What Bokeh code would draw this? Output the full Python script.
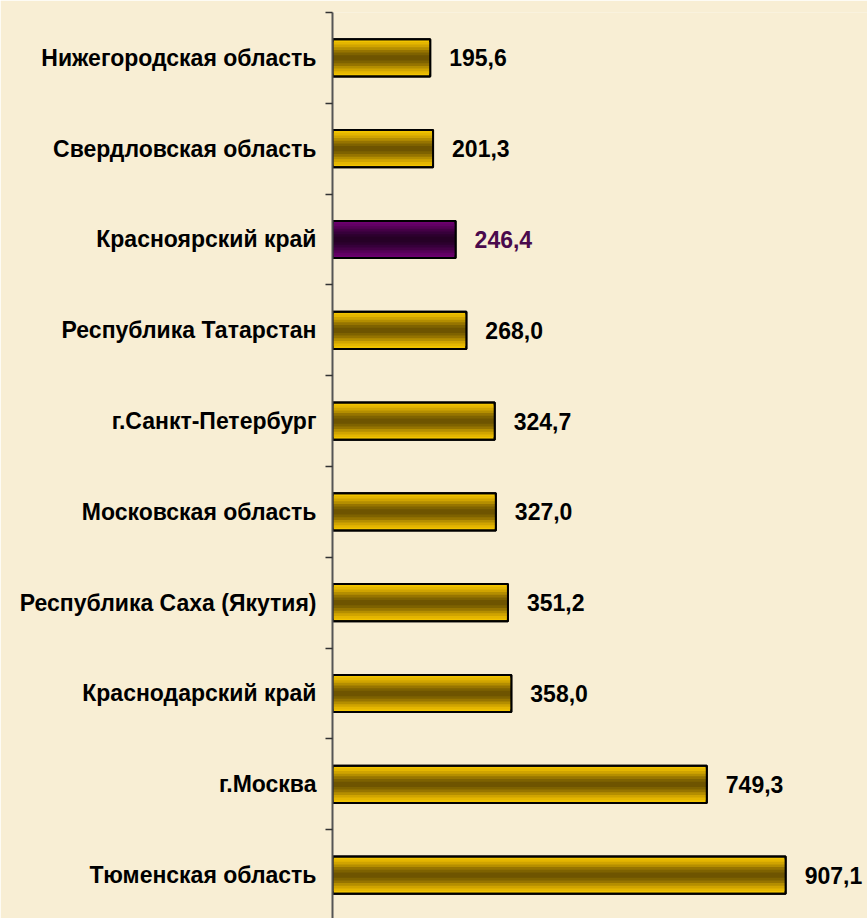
from bokeh.plotting import figure
from bokeh.models import Range1d, FixedTicker, ColumnDataSource
from bokeh.core.properties import value
from bokeh.embed import file_html
from bokeh.resources import INLINE

regions = ["Нижегородская область", "Свердловская область", "Красноярский край",
           "Республика Татарстан", "г.Санкт-Петербург", "Московская область",
           "Республика Саха (Якутия)", "Краснодарский край", "г.Москва", "Тюменская область"]
values = [195.6, 201.3, 246.4, 268.0, 324.7, 327.0, 351.2, 358.0, 749.3, 907.1]
labels = ["195,6", "201,3", "246,4", "268,0", "324,7", "327,0", "351,2", "358,0", "749,3", "907,1"]
highlight = "Красноярский край"

BG = "#F8EED4"
FONT = "Liberation Sans"

ypos = list(range(1, len(regions) + 1))

p = figure(width=867, height=918, output_backend="svg", toolbar_location=None,
           x_range=Range1d(0, 1071), y_range=Range1d(10.478, 0.5),
           min_border_left=332, min_border_right=0, min_border_top=12, min_border_bottom=0,
           background_fill_color=BG, border_fill_color=BG, outline_line_color=None)
p.xaxis.visible = False
p.xgrid.visible = False
p.ygrid.visible = False

gold = ["#F2C400", "#E4B600", "#D0A400", "#B48E00", "#967400", "#7E6200", "#6E5400"]
purple = ["#6E0070", "#620064", "#540056", "#440046", "#36003A", "#2C002E", "#260026"]

H = 0.41
is_hl = [r == highlight for r in regions]
n = len(gold)
for k in range(n):
    hk = H * (1 - k / n)
    cols = [purple[k] if h else gold[k] for h in is_hl]
    src = ColumnDataSource(dict(y=ypos, right=values, color=cols))
    if k == 0:
        p.hbar(y="y", left=0, right="right", height=hk, source=src,
               fill_color="color", line_color="#000000", line_width=2)
    else:
        p.hbar(y="y", left=1.2, right="right", height=hk, source=src,
               fill_color="color", line_color=None)
srcb = ColumnDataSource(dict(y=ypos, right=values))
p.hbar(y="y", left=0, right="right", height=H, source=srcb,
       fill_color=None, line_color="#000000", line_width=2)

tcols = ["#4A0A4C" if h else "#000000" for h in is_hl]
tsrc = ColumnDataSource(dict(x=values, y=ypos, t=labels, c=tcols))
p.text(x="x", y="y", text="t", source=tsrc, x_offset=19, text_color="c",
       text_font=value(FONT), text_font_style="bold", text_font_size="23px",
       text_baseline="middle", text_align="left")

ax = p.yaxis[0]
ax.ticker = FixedTicker(ticks=ypos, minor_ticks=[i + 0.5 for i in range(0, len(regions) + 1)])
ax.major_label_overrides = {i: r for i, r in zip(ypos, regions)}
ax.major_tick_line_color = None
ax.major_tick_out = 0
ax.minor_tick_out = 7
ax.minor_tick_in = 0
ax.minor_tick_line_color = "#333333"
ax.minor_tick_line_width = 1.5
ax.axis_line_color = "#555555"
ax.axis_line_width = 2
ax.major_label_standoff = 9
ax.major_label_text_font = FONT
ax.major_label_text_font_style = "bold"
ax.major_label_text_font_size = "23px"
ax.major_label_text_color = "#000000"

open("out.html", "w").write(file_html(p, INLINE))
